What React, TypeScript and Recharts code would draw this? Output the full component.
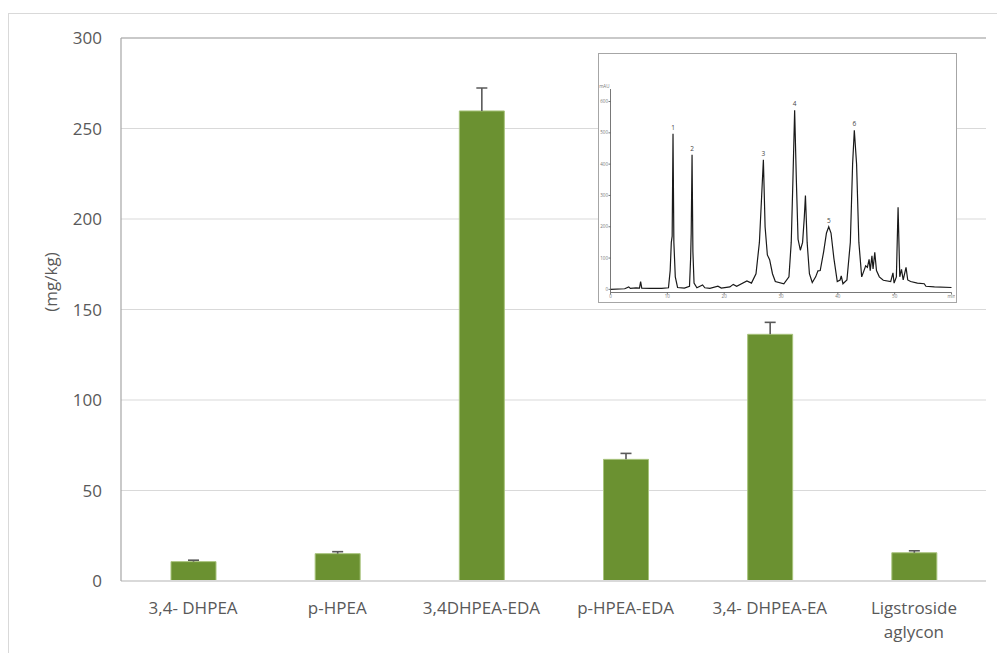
import React from 'react';
import {
  BarChart, Bar, XAxis, YAxis, CartesianGrid, ReferenceLine, Label,
  LineChart, Line, LabelList,
} from 'recharts';

// ---- main bar chart data ----
const categories = ['3,4- DHPEA', 'p-HPEA', '3,4DHPEA-EDA', 'p-HPEA-EDA', '3,4- DHPEA-EA', 'Ligstroside aglycon'];
const tickLines = [['3,4- DHPEA'], ['p-HPEA'], ['3,4DHPEA-EDA'], ['p-HPEA-EDA'], ['3,4- DHPEA-EA'], ['Ligstroside', 'aglycon']];
const values = [10.7, 15.1, 259.7, 67.2, 136.3, 15.6];
const errors = [0.8, 1.1, 12.7, 3.3, 6.6, 1.1];
const yTicks = [0, 50, 100, 150, 200, 250, 300];

// ---- inset chromatogram data (min, mAU) ----
const retentionTimes = [
  0, 2.5, 3.2, 3.5, 4.5, 5.1, 5.3, 5.5, 7, 9, 10.2, 10.5, 10.7, 10.85, 11.0, 11.15, 11.4, 11.8,
  13.0, 13.9, 14.1, 14.2, 14.35, 14.5, 14.7, 15.2, 16.2, 16.6, 17.5, 18.9, 19.5, 21.0, 21.6, 22.2,
  24.0, 24.8, 25.6, 26.2, 26.6, 26.9, 27.2, 27.6, 28.0, 28.5, 29.0, 30.5, 31.4, 31.8, 32.1, 32.4,
  32.7, 33.0, 33.4, 33.8, 34.1, 34.3, 34.6, 35.0, 35.5, 36.1, 36.5, 36.9, 37.5, 38.0, 38.4, 38.8,
  39.3, 39.9, 40.4, 40.6, 40.9, 41.6, 42.2, 42.6, 42.9, 43.3, 43.7, 44.2, 44.6, 44.9, 45.2, 45.5,
  45.7, 46.0, 46.2, 46.5, 46.8, 47.3, 48.0, 49.3, 49.7, 49.9, 50.3, 50.6, 50.9, 51.2, 51.5, 52.0,
  52.3, 52.8, 54.0, 55.2, 55.5, 57.0, 60.0,
];
const absorbance = [
  0, 2, 8, 3, 5, 4, 25, 4, 3, 3, 5, 60, 150, 170, 497, 150, 40, 6,
  4, 10, 100, 180, 430, 120, 20, 5, 14, 5, 3, 10, 4, 8, 16, 10,
  27, 20, 50, 150, 300, 414, 200, 110, 95, 50, 25, 18, 40, 150, 350, 572,
  350, 160, 125, 150, 230, 300, 150, 50, 22, 40, 59, 60, 120, 180, 200, 180,
  100, 25, 30, 43, 18, 30, 150, 400, 508, 400, 150, 40, 60, 75, 70, 96,
  60, 107, 65, 118, 60, 40, 29, 25, 53, 20, 40, 262, 40, 64, 30, 70,
  30, 25, 20, 18, 10, 8, 6,
];
const peakTimes = [11.0, 14.35, 26.9, 32.4, 38.4, 42.9];
const peakNames = ['1', '2', '3', '4', '5', '6'];
const chromXTicks = [0, 10, 20, 30, 40, 50, 60];
const chromYTicks = [0, 100, 200, 300, 400, 500, 600];

const barData = categories.map((name, i) => ({ name, value: values[i], err: errors[i], lines: tickLines[i] }));
const chromData = retentionTimes.map((t, i) => {
  const k = peakTimes.indexOf(t);
  return { t, v: absorbance[i], peak: k >= 0 ? peakNames[k] : undefined };
});

const FONT = '"Open Sans", sans-serif';
const TEXT = '#595959';

const ErrorShape = (props: any) => {
  const { x, y, width, height } = props;
  if (x == null || y == null) return null;
  const cx = x + width / 2;
  return (
    <g>
      <line x1={cx} y1={y} x2={cx} y2={y + height} stroke="#595959" strokeWidth={1.6} />
      <line x1={cx - 5.5} y1={y} x2={cx + 5.5} y2={y} stroke="#595959" strokeWidth={1.6} />
    </g>
  );
};

const XTick = (props: any) => {
  const { x, y, payload } = props;
  const row = barData.find((d) => d.name === payload.value);
  const lines = row ? row.lines : [payload.value];
  return (
    <text x={x} y={y + 33} textAnchor="middle" fill={TEXT} fontSize={17} fontFamily={FONT}>
      {lines.map((l: string, i: number) => (
        <tspan key={i} x={x} dy={i === 0 ? 0 : 24}>{l}</tspan>
      ))}
    </text>
  );
};

const PeakLabel = (props: any) => {
  const { x, y, value } = props;
  if (value == null || x == null || y == null) return null;
  return (
    <text x={x} y={y - 4} textAnchor="middle" fontSize={6.5} fill="#444" fontFamily={FONT}>{value}</text>
  );
};

export default function App() {
  return (
    <div style={{ position: 'absolute', left: 0, top: 0, width: 997, height: 653, overflow: 'hidden', background: '#fff', fontFamily: FONT }}>
      <div style={{ position: 'absolute', left: 8, top: 13, width: 1100, height: 800, border: '1.5px solid #d9d9d9' }} />
      <div style={{ position: 'absolute', left: 0, top: 0 }}>
        <BarChart width={997} height={653} data={barData} margin={{ top: 38, right: 11, bottom: 12, left: 0 }} barCategoryGap="34%">
          <CartesianGrid vertical={false} stroke="#d9d9d9" strokeWidth={1.2} />
          <XAxis dataKey="name" height={60} tickLine={false} tickSize={0} tickMargin={0} axisLine={{ stroke: '#d9d9d9', strokeWidth: 2 }} tick={<XTick />} interval={0} />
          <YAxis
            width={121}
            domain={[0, 300]}
            ticks={yTicks}
            tickLine={false}
            tickSize={0}
            tickMargin={19}
            axisLine={{ stroke: '#a6a6a6', strokeWidth: 1.2 }}
            tick={{ fill: TEXT, fontSize: 17, fontFamily: FONT }}
            allowDataOverflow
          >
            <Label
              content={(p: any) => {
                const vb = p.viewBox || { x: 0, y: 38, width: 121, height: 543 };
                const cx = vb.x + 50;
                const cy = vb.y + vb.height / 2 - 27.5;
                return (
                  <text x={cx} y={cy} textAnchor="middle" dominantBaseline="central" fill={TEXT} fontSize={17} fontFamily={FONT} transform={`rotate(-90, ${cx}, ${cy})`}>
                    (mg/kg)
                  </text>
                );
              }}
            />
          </YAxis>
          <YAxis yAxisId="r" orientation="right" width={0} domain={[0, 300]} tick={false} tickLine={false} axisLine={{ stroke: '#a6a6a6', strokeWidth: 1.2 }} />
          <ReferenceLine y={300} stroke="#a6a6a6" strokeWidth={1.2} />
          <Bar dataKey="value" stackId="a" barSize={45} fill="#6b9131" stroke="#a8c37c" strokeWidth={1} isAnimationActive={false} />
          <Bar dataKey="err" stackId="a" barSize={45} shape={<ErrorShape />} isAnimationActive={false} />
        </BarChart>
      </div>
      <div style={{ position: 'absolute', left: 598, top: 53, width: 359, height: 250, boxSizing: 'border-box', border: '1.5px solid #a6a6a6', background: '#fff' }}>
        <LineChart width={356} height={247} data={chromData} margin={{ top: 35, right: 3.5, bottom: 0, left: 1.5 }}>
          <XAxis
            dataKey="t"
            type="number"
            domain={[0, 60]}
            ticks={chromXTicks}
            height={8.5}
            tickSize={2}
            tickMargin={0}
            axisLine={{ stroke: '#555', strokeWidth: 0.8 }}
            tickLine={{ stroke: '#555', strokeWidth: 0.8 }}
            tick={{ fontSize: 4.5, fill: '#777', fontFamily: FONT }}
            tickFormatter={(v: number) => (v === 60 ? 'min' : String(v))}
          />
          <YAxis
            width={10}
            domain={[-10, 640]}
            ticks={chromYTicks}
            tickSize={2}
            tickMargin={0.5}
            axisLine={{ stroke: '#555', strokeWidth: 0.8 }}
            tickLine={{ stroke: '#555', strokeWidth: 0.8 }}
            tick={{ fontSize: 4.5, fill: '#777', fontFamily: FONT }}
            allowDataOverflow
          >
            <Label
              content={(p: any) => {
                const vb = p.viewBox || { x: 0, y: 35, width: 10, height: 200 };
                return (
                  <text x={vb.x + vb.width - 1} y={vb.y - 1} textAnchor="end" fontSize={4.5} fill="#777" fontFamily={FONT}>mAU</text>
                );
              }}
            />
          </YAxis>
          <Line type="linear" dataKey="v" stroke="#1a1a1a" strokeWidth={1.2} dot={false} isAnimationActive={false}>
            <LabelList dataKey="peak" content={<PeakLabel />} />
          </Line>
        </LineChart>
      </div>
    </div>
  );
}
